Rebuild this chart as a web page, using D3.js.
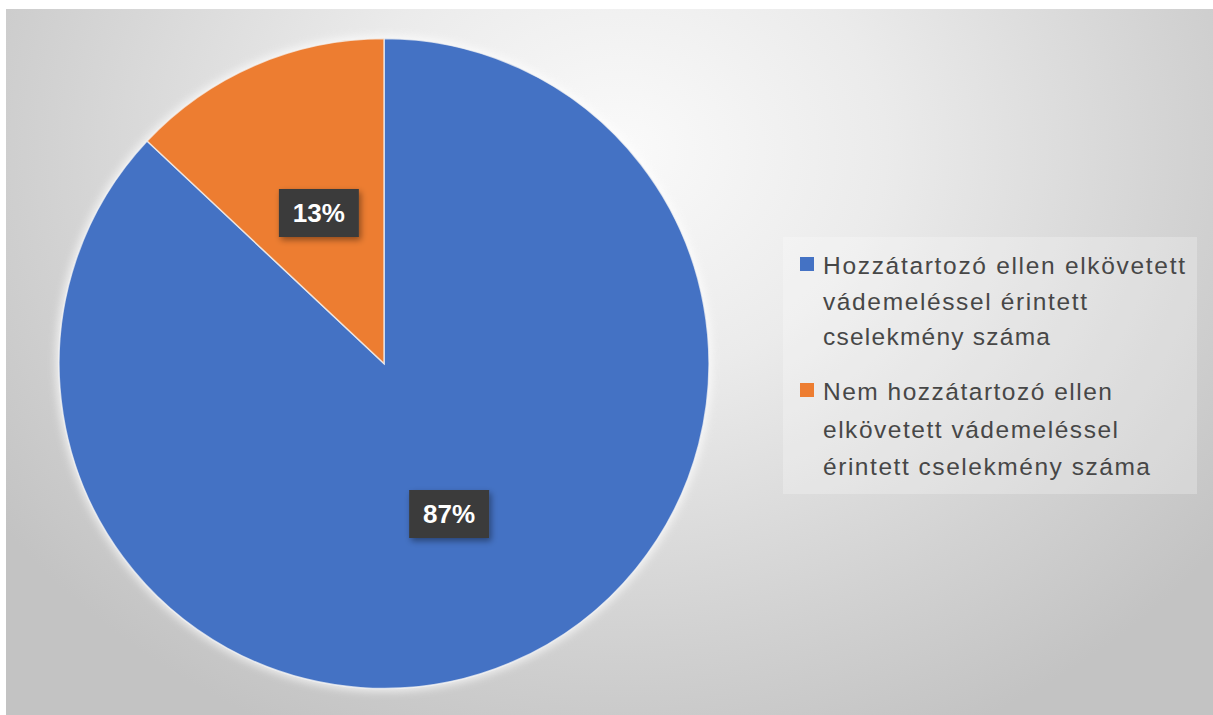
<!DOCTYPE html>
<html>
<head>
<meta charset="utf-8">
<script src="https://cdn.jsdelivr.net/npm/d3@7"></script>
<style>
  html, body { margin: 0; padding: 0; background: #ffffff; }
  svg { display: block; }
</style>
</head>
<body>
<svg id="chart" width="1213" height="715"></svg>
<script>
// Share of charged acts: against a relative vs. not against a relative
const categories = [
  "Hozzátartozó ellen elkövetett vádemeléssel érintett cselekmény száma",
  "Nem hozzátartozó ellen elkövetett vádemeléssel érintett cselekmény száma"
];
const values = [87, 13];
const valueLabels = ["87%", "13%"];
const legendLines = [
  ["Hozzátartozó ellen elkövetett", "vádemeléssel érintett", "cselekmény száma"],
  ["Nem hozzátartozó ellen", "elkövetett vádemeléssel", "érintett cselekmény száma"]
];
const colors = ["#4472C4", "#ED7D31"];

const W = 1213, H = 715;
const svg = d3.select("#chart");
const defs = svg.append("defs");

// radial background, light near the top centre, grey towards the edges
const bg = defs.append("radialGradient")
  .attr("id", "bgGrad")
  .attr("gradientUnits", "userSpaceOnUse")
  .attr("cx", 620).attr("cy", 150).attr("r", 760)
  .attr("gradientTransform", "translate(620,150) scale(1,0.85) translate(-620,-150)");
bg.append("stop").attr("offset", 0).attr("stop-color", "#fafafa");
bg.append("stop").attr("offset", 0.35).attr("stop-color", "#ebebeb");
bg.append("stop").attr("offset", 0.75).attr("stop-color", "#d2d2d2");
bg.append("stop").attr("offset", 1).attr("stop-color", "#c3c3c3");

const glow = defs.append("filter").attr("id", "glow")
  .attr("x", "-10%").attr("y", "-10%").attr("width", "120%").attr("height", "120%");
glow.append("feGaussianBlur").attr("stdDeviation", 4);

const shadow = defs.append("filter").attr("id", "boxShadow")
  .attr("x", "-30%").attr("y", "-30%").attr("width", "160%").attr("height", "160%");
shadow.append("feDropShadow")
  .attr("dx", 2).attr("dy", 3).attr("stdDeviation", 3)
  .attr("flood-color", "#000").attr("flood-opacity", 0.4);

svg.append("rect")
  .attr("x", 6).attr("y", 9)
  .attr("width", W - 6).attr("height", H - 9)
  .attr("fill", "url(#bgGrad)");

// pie
const cx = 384, cy = 363.5, radius = 325;
const pie = d3.pie().sort(null).value(d => d)(values);
const arc = d3.arc().innerRadius(0).outerRadius(radius);
const labelArc = d3.arc().innerRadius(164).outerRadius(164);

const g = svg.append("g").attr("transform", `translate(${cx},${cy})`);

g.append("circle")
  .attr("r", radius + 3)
  .attr("fill", "#ffffff")
  .attr("opacity", 0.7)
  .attr("filter", "url(#glow)");

g.selectAll("path.slice")
  .data(pie)
  .join("path")
  .attr("class", "slice")
  .attr("d", arc)
  .attr("fill", (d, i) => colors[i])
  .attr("stroke", "#f4f4f4")
  .attr("stroke-opacity", 0.75)
  .attr("stroke-width", 1.5);

// value labels in dark boxes
const labels = g.selectAll("g.lbl")
  .data(pie)
  .join("g")
  .attr("class", "lbl")
  .attr("transform", d => `translate(${labelArc.centroid(d)})`);

labels.append("rect")
  .attr("x", -40).attr("y", -24)
  .attr("width", 80).attr("height", 48)
  .attr("fill", "#3b3b3b")
  .attr("filter", "url(#boxShadow)");

labels.append("text")
  .attr("text-anchor", "middle")
  .attr("dy", "0.36em")
  .attr("font-family", "'Liberation Sans', Arial, sans-serif")
  .attr("font-weight", "bold")
  .attr("font-size", 26)
  .attr("fill", "#ffffff")
  .text((d, i) => valueLabels[i]);

// legend
const legendG = svg.append("g");
legendG.append("rect")
  .attr("x", 783).attr("y", 237)
  .attr("width", 414).attr("height", 257)
  .attr("fill", "#ffffff")
  .attr("opacity", 0.25);

const lineLengths = [[362, 264, 227], [289, 295, 327]];
const itemTop = [274, 400];
const lineStep = [35.5, 37.5];

categories.forEach((cat, i) => {
  const item = legendG.append("g").attr("class", "legend-item");
  item.append("title").text(cat);
  item.append("rect")
    .attr("x", 800).attr("y", itemTop[i] - 17)
    .attr("width", 14).attr("height", 14)
    .attr("fill", colors[i]);
  legendLines[i].forEach((ln, j) => {
    item.append("text")
      .attr("x", 823)
      .attr("y", itemTop[i] + j * lineStep[i])
      .attr("font-family", "'Liberation Sans', Arial, sans-serif")
      .attr("font-size", 24.5)
      .attr("fill", "#474747")
      .attr("textLength", lineLengths[i][j])
      .attr("lengthAdjust", "spacing")
      .text(ln);
  });
});
</script>
</body>
</html>
